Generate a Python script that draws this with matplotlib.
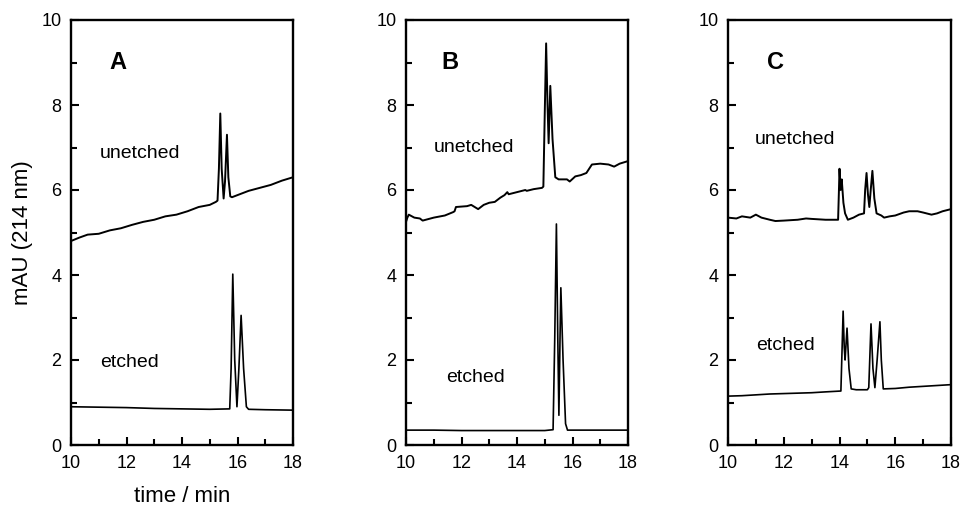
import matplotlib
matplotlib.use("Agg")
import matplotlib.pyplot as plt
from matplotlib.ticker import MultipleLocator

plt.rcParams['font.family'] = ['Liberation Sans', 'DejaVu Sans']

# ---- Panel A ----
a_unetched_t = [10.0, 10.3, 10.6, 11.0, 11.4, 11.8, 12.2, 12.6, 13.0, 13.4, 13.8, 14.2, 14.6, 15.0, 15.22, 15.28,
                15.33, 15.38, 15.43, 15.5, 15.55, 15.62, 15.67, 15.74, 15.8, 16.0, 16.4, 16.8, 17.2, 17.6, 18.0]
a_unetched_y = [4.8, 4.88, 4.95, 4.97, 5.05, 5.1, 5.18, 5.25, 5.3, 5.38, 5.42, 5.5, 5.6, 5.65, 5.72, 5.75,
                6.5, 7.8, 6.5, 5.8, 6.2, 7.3, 6.3, 5.85, 5.83, 5.88, 5.98, 6.05, 6.12, 6.22, 6.3]
a_etched_t = [10.0, 11.0, 12.0, 13.0, 14.0, 15.0, 15.72, 15.77, 15.83, 15.9, 15.98, 16.05, 16.13, 16.22, 16.32,
              16.4, 17.0, 18.0]
a_etched_y = [0.9, 0.89, 0.88, 0.86, 0.85, 0.84, 0.85, 1.8, 4.02, 2.0, 0.9, 1.8, 3.05, 1.8, 0.9,
              0.84, 0.83, 0.82]

# ---- Panel B ----
b_unetched_t = [10.0, 10.05, 10.1, 10.3, 10.5, 10.6, 11.0, 11.4, 11.7, 11.75, 11.8, 12.2, 12.35, 12.6, 12.8, 13.0,
                13.2, 13.4, 13.55, 13.65, 13.7, 14.0, 14.3, 14.35, 14.6, 14.9, 14.95, 15.0, 15.05, 15.1, 15.14,
                15.2, 15.28, 15.38, 15.5, 15.8, 15.9, 16.1, 16.3, 16.5, 16.7, 17.0, 17.3, 17.5, 17.7, 18.0]
b_unetched_y = [5.25, 5.35, 5.42, 5.35, 5.33, 5.28, 5.35, 5.4, 5.48, 5.5, 5.6, 5.62, 5.65, 5.55, 5.65, 5.7,
                5.72, 5.82, 5.88, 5.95, 5.9, 5.95, 6.0, 5.98, 6.02, 6.05, 6.08, 7.8, 9.45, 8.0, 7.1,
                8.45, 7.2, 6.3, 6.25, 6.25, 6.2, 6.32, 6.35, 6.4, 6.6, 6.62, 6.6, 6.55, 6.62, 6.68]
b_etched_t = [10.0, 11.0, 12.0, 13.0, 14.0, 15.0, 15.3, 15.36, 15.42, 15.47, 15.51, 15.55, 15.58, 15.66, 15.75,
              15.82, 17.0, 18.0]
b_etched_y = [0.35, 0.35, 0.34, 0.34, 0.34, 0.34, 0.36, 2.5, 5.2, 2.5, 0.7, 2.5, 3.7, 2.0, 0.5,
              0.35, 0.35, 0.35]

# ---- Panel C ----
c_unetched_t = [10.0, 10.3, 10.5, 10.8, 11.0, 11.2, 11.5, 11.7, 12.0, 12.5, 12.8, 13.0, 13.5, 13.95, 13.98, 14.0,
                14.04, 14.08, 14.14, 14.2, 14.3, 14.5, 14.7, 14.88, 14.92, 14.97, 15.02, 15.07, 15.12, 15.18,
                15.25, 15.33, 15.5, 15.6, 15.8, 16.0, 16.3, 16.5, 16.8, 17.0, 17.3, 17.5, 17.7, 18.0]
c_unetched_y = [5.35, 5.33, 5.38, 5.35, 5.42, 5.35, 5.3, 5.27, 5.28, 5.3, 5.33, 5.32, 5.3, 5.3, 6.0, 6.5,
                6.0, 6.25, 5.7, 5.45, 5.3, 5.35, 5.42, 5.45, 6.0, 6.4, 5.9, 5.6, 6.0, 6.45,
                5.8, 5.45, 5.4, 5.35, 5.38, 5.4, 5.47, 5.5, 5.5, 5.47, 5.42, 5.45, 5.5, 5.55]
c_etched_t = [10.0, 10.5, 11.0, 11.5, 12.0, 12.5, 13.0, 13.5, 14.05, 14.09, 14.13, 14.17, 14.2, 14.27, 14.34,
              14.42, 14.6, 15.0, 15.05, 15.09, 15.13, 15.2, 15.27, 15.35, 15.45, 15.5, 15.57, 16.0, 16.5, 17.0,
              17.5, 18.0]
c_etched_y = [1.15, 1.16, 1.18, 1.2, 1.21, 1.22, 1.23, 1.25, 1.27, 2.2, 3.15, 2.3, 2.0, 2.75, 1.8,
              1.32, 1.3, 1.3, 1.35, 2.1, 2.85, 1.8, 1.35, 2.0, 2.9, 2.0, 1.32, 1.33, 1.36, 1.38,
              1.4, 1.42]

panel_letters = ['A', 'B', 'C']
unetched_label = 'unetched'
etched_label = 'etched'
x_ticks = [10, 12, 14, 16, 18]
y_ticks = [0, 2, 4, 6, 8, 10]

panels = [
    (a_unetched_t, a_unetched_y, a_etched_t, a_etched_y),
    (b_unetched_t, b_unetched_y, b_etched_t, b_etched_y),
    (c_unetched_t, c_unetched_y, c_etched_t, c_etched_y),
]

letter_pos = [(11.7, 9.0), (11.6, 9.0), (11.7, 9.0)]
unetched_pos = [(12.5, 6.85), (12.45, 7.0), (12.4, 7.2)]
etched_pos = [(12.1, 1.95), (12.5, 1.6), (12.05, 2.35)]

fig = plt.figure(figsize=(9.61, 5.07), dpi=100)
lefts = [71 / 961, 406 / 961, 728 / 961]
widths = [222 / 961, 222 / 961, 223 / 961]
bottom = 62 / 507
height = 425 / 507

for i, (ut, uy, et, ey) in enumerate(panels):
    ax = fig.add_axes([lefts[i], bottom, widths[i], height])
    ax.plot(ut, uy, color='black', lw=1.4)
    ax.plot(et, ey, color='black', lw=1.2)
    ax.set_xlim(10, 18)
    ax.set_ylim(0, 10)
    ax.set_xticks(x_ticks)
    ax.set_yticks(y_ticks)
    ax.xaxis.set_minor_locator(MultipleLocator(1))
    ax.yaxis.set_minor_locator(MultipleLocator(1))
    ax.tick_params(axis='both', which='major', direction='in', length=6, width=1.5,
                   labelsize=13, pad=7, top=False, right=False)
    ax.tick_params(axis='both', which='minor', direction='in', length=4, width=1.5,
                   top=False, right=False)
    for s in ax.spines.values():
        s.set_linewidth(1.7)
    ax.text(*letter_pos[i], panel_letters[i], fontsize=17, fontweight='bold',
            ha='center', va='center')
    ax.text(*unetched_pos[i], unetched_label, fontsize=14, ha='center', va='center')
    ax.text(*etched_pos[i], etched_label, fontsize=14, ha='center', va='center')
    if i == 0:
        ax.set_ylabel('mAU (214 nm)', fontsize=16, labelpad=6)
        ax.set_xlabel('time / min', fontsize=16, labelpad=10)

fig.savefig('out.png', dpi=100)
